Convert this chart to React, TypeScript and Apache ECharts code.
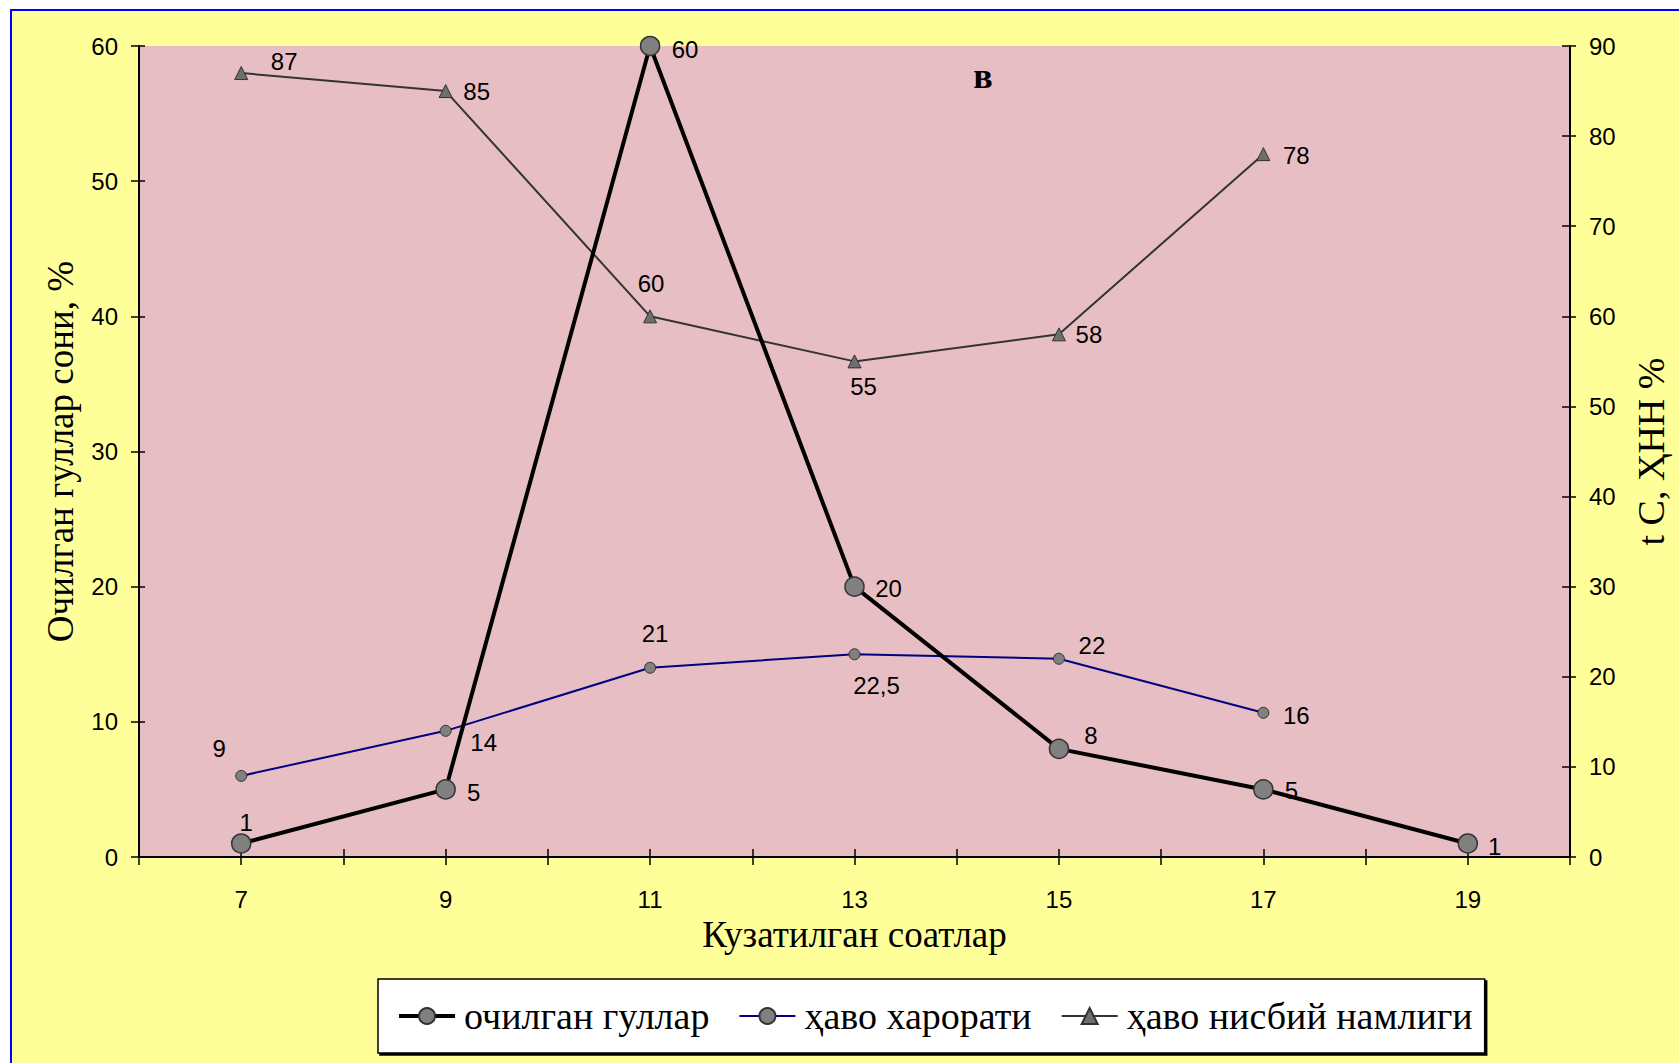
import React, { useEffect, useRef } from "react";
import * as echarts from "echarts";

// ---- data ----
const hours = [7, 9, 11, 13, 15, 17, 19];
const flowersOpened = [1, 5, 60, 20, 8, 5, 1];
const tempHours = [7, 9, 11, 13, 15, 17];
const airTemperature = [9, 14, 21, 22.5, 22, 16];
const relativeHumidity = [87, 85, 60, 55, 58, 78];

const seriesNames = ["очилган гуллар", "ҳаво харорати", "ҳаво нисбий намлиги"];
const xAxisTitle = "Кузатилган соатлар";
const leftAxisTitle = "Очилган гуллар сони, %";
const rightAxisTitle = "t C, ҲНН %";
const panelLetter = "в";

// label placement (offset from the marker centre), styling only
const flowerLabelOffsets = [[5, -21], [28, 3], [35, 3], [34, 2], [32, -13], [28, 1], [27, 3]];
const tempLabelOffsets = [[-22, -27], [38, 12], [5, -34], [22, 31], [33, -13], [33, 3]];
const humidLabelOffsets = [[43, -12], [31, 0], [1, -33], [9, 25], [30, 0], [33, 1]];

const SANS = "'Liberation Sans', Arial, sans-serif";
const SERIF = "'Liberation Serif', 'Times New Roman', serif";

const fmt = (v: number) => String(v).replace(".", ",");

const GRID = { left: 139, top: 46, right: 109, bottom: 206 };

function buildData(xs: number[], ys: number[], offsets: number[][]) {
  return xs.map((x, i) => ({
    value: [x, ys[i]],
    label: { offset: offsets[i] },
  }));
}

const labelBase = {
  show: true,
  position: "inside",
  color: "#000",
  fontSize: 24,
  fontFamily: SANS,
  formatter: (p: any) => fmt(p.value[1]),
};

export default function App() {
  const ref = useRef<HTMLDivElement>(null);

  useEffect(() => {
    if (!ref.current) return;
    const chart = echarts.init(ref.current, undefined, { renderer: "svg" });
    const axisLineStyle = { color: "#000", width: 2 };
    chart.setOption({
      animation: false,
      backgroundColor: "transparent",
      grid: [
        {
          ...GRID,
          outerBoundsMode: "none",
          containLabel: false,
          show: true,
          backgroundColor: "#e7bec3",
          borderWidth: 0,
        },
        { ...GRID, outerBoundsMode: "none", containLabel: false, show: false },
      ],
      xAxis: [
        {
          type: "value",
          gridIndex: 0,
          min: 6,
          max: 20,
          interval: 1,
          name: xAxisTitle,
          nameLocation: "middle",
          nameGap: 56,
          nameTextStyle: { fontFamily: SERIF, fontSize: 37, color: "#000" },
          axisLine: { show: true, onZero: false, lineStyle: axisLineStyle },
          axisTick: { show: true, length: 8, lineStyle: { color: "#000", width: 1.5 } },
          axisLabel: {
            margin: 30,
            fontSize: 24,
            fontFamily: SANS,
            color: "#000",
            showMinLabel: true,
            showMaxLabel: true,
            formatter: (v: number) => (v % 2 === 1 ? String(v) : ""),
          },
          splitLine: { show: false },
        },
        {
          type: "value",
          gridIndex: 1,
          min: 6,
          max: 20,
          interval: 1,
          axisLine: { show: false },
          axisTick: { show: true, inside: true, length: 8, lineStyle: { color: "#000", width: 1.5 } },
          axisLabel: { show: false },
          splitLine: { show: false },
        },
      ],
      yAxis: [
        {
          type: "value",
          gridIndex: 0,
          position: "left",
          min: 0,
          max: 60,
          interval: 10,
          name: leftAxisTitle,
          nameLocation: "middle",
          nameRotate: 90,
          nameGap: 60,
          nameTextStyle: { fontFamily: SERIF, fontSize: 37, color: "#000" },
          axisLine: { show: true, onZero: false, lineStyle: axisLineStyle },
          axisTick: { show: true, length: 8, lineStyle: { color: "#000", width: 1.5 } },
          axisLabel: { margin: 21, fontSize: 24, fontFamily: SANS, color: "#000" },
          splitLine: { show: false },
        },
        {
          type: "value",
          gridIndex: 0,
          position: "right",
          min: 0,
          max: 90,
          interval: 10,
          name: rightAxisTitle,
          nameLocation: "middle",
          nameRotate: 90,
          nameGap: 62,
          nameTextStyle: { fontFamily: SERIF, fontSize: 38, color: "#000" },
          axisLine: { show: true, onZero: false, lineStyle: axisLineStyle },
          axisTick: { show: true, length: 6, lineStyle: { color: "#000", width: 1.5 } },
          axisLabel: { margin: 19, fontSize: 24, fontFamily: SANS, color: "#000" },
          splitLine: { show: false },
        },
        {
          type: "value",
          gridIndex: 1,
          position: "left",
          min: 0,
          max: 60,
          interval: 10,
          axisLine: { show: false },
          axisTick: { show: true, inside: true, length: 6, lineStyle: { color: "#000", width: 1.5 } },
          axisLabel: { show: false },
          splitLine: { show: false },
        },
        {
          type: "value",
          gridIndex: 1,
          position: "right",
          min: 0,
          max: 90,
          interval: 10,
          axisLine: { show: false },
          axisTick: { show: true, inside: true, length: 8, lineStyle: { color: "#000", width: 1.5 } },
          axisLabel: { show: false },
          splitLine: { show: false },
        },
      ],
      legend: {
        left: 378,
        top: 979,
        orient: "horizontal",
        data: [
          { name: seriesNames[0], lineStyle: { width: 4, color: "#000" } },
          { name: seriesNames[1], lineStyle: { width: 2, color: "#000080" } },
          { name: seriesNames[2], lineStyle: { width: 2, color: "#333333" } },
        ],
        itemWidth: 56,
        itemHeight: 20,
        itemGap: 29,
        padding: [18, 12, 18, 19],
        backgroundColor: "#fff",
        borderColor: "#000",
        borderWidth: 1.5,
        borderRadius: 0,
        shadowColor: "#000",
        shadowBlur: 0,
        shadowOffsetX: 2,
        shadowOffsetY: 2,
        textStyle: { fontFamily: SERIF, fontSize: 38, color: "#000", padding: [0, 0, 0, 4] },
      },
      graphic: [
        {
          type: "text",
          x: 983,
          y: 76,
          style: {
            text: panelLetter,
            fontFamily: SERIF,
            fontSize: 36,
            fontWeight: "bold",
            fill: "#000",
            textAlign: "center",
            textVerticalAlign: "middle",
          },
        },
      ],
      series: [
        {
          name: seriesNames[1],
          type: "line",
          xAxisIndex: 0,
          yAxisIndex: 1,
          data: buildData(tempHours, airTemperature, tempLabelOffsets),
          symbol: "circle",
          symbolSize: 11,
          clip: false,
          lineStyle: { color: "#000080", width: 2 },
          itemStyle: { color: "#808080", borderColor: "#333", borderWidth: 1 },
          label: labelBase,
          z: 3,
        },
        {
          name: seriesNames[2],
          type: "line",
          xAxisIndex: 0,
          yAxisIndex: 1,
          data: buildData(tempHours, relativeHumidity, humidLabelOffsets),
          symbol: "triangle",
          symbolSize: 13,
          clip: false,
          lineStyle: { color: "#333333", width: 2 },
          itemStyle: { color: "#6e6e6e", borderColor: "#333", borderWidth: 1 },
          label: labelBase,
          z: 3,
        },
        {
          name: seriesNames[0],
          type: "line",
          xAxisIndex: 0,
          yAxisIndex: 0,
          data: buildData(hours, flowersOpened, flowerLabelOffsets),
          symbol: "circle",
          symbolSize: 19,
          clip: false,
          lineStyle: { color: "#000", width: 4 },
          itemStyle: { color: "#808080", borderColor: "#333", borderWidth: 1.5 },
          label: labelBase,
          z: 4,
        },
      ],
    });
    return () => chart.dispose();
  }, []);

  return (
    <div
      style={{
        position: "fixed",
        left: 0,
        top: 0,
        width: 1679,
        height: 1063,
        background: "#fff",
        overflow: "hidden",
      }}
    >
      <div
        style={{
          position: "absolute",
          left: 10,
          top: 9,
          width: 1720,
          height: 1120,
          background: "#ffff99",
          border: "2px solid #0000ff",
        }}
      />
      <div
        ref={ref}
        style={{ position: "absolute", left: 0, top: 0, width: 1679, height: 1063 }}
      />
    </div>
  );
}
